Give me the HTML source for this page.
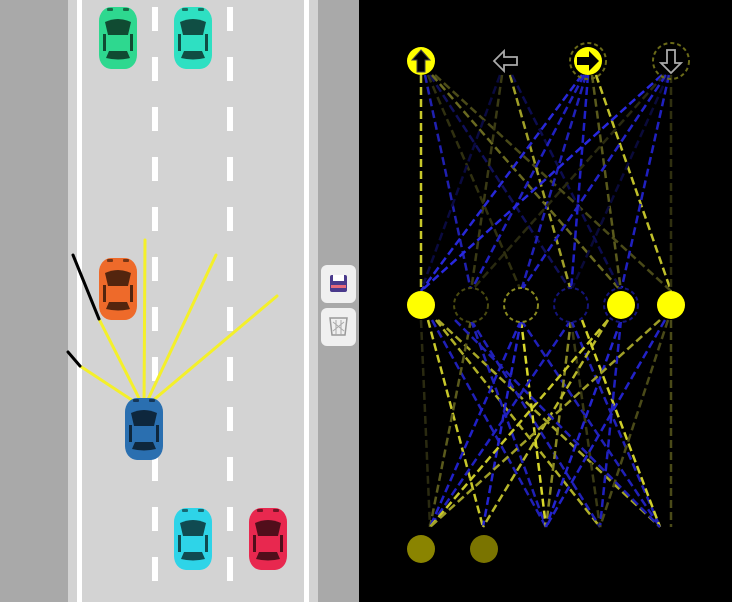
<!DOCTYPE html>
<html><head><style>
html,body{margin:0;padding:0;width:732px;height:602px;overflow:hidden;background:#000}
</style></head><body>
<svg width="732" height="602" viewBox="0 0 732 602" xmlns="http://www.w3.org/2000/svg">
<defs>
<g id="car">
<rect x="-19" y="-31" width="38" height="62" rx="12" ry="14" fill="currentColor"/>
<path d="M-13,-16 Q0,-22 13,-16 L10,-3 L-10,-3 Z" fill="#000" opacity="0.65"/>
<path d="M-9,13 L9,13 L12,20 Q0,23 -12,20 Z" fill="#000" opacity="0.65"/>
<rect x="-15" y="-4" width="3" height="17" fill="#000" opacity="0.65"/>
<rect x="12" y="-4" width="3" height="17" fill="#000" opacity="0.65"/>
<rect x="-11" y="-30" width="6" height="3" rx="1" fill="#000" opacity="0.5"/>
<rect x="5" y="-30" width="6" height="3" rx="1" fill="#000" opacity="0.5"/>
</g>
</defs>
<rect x="0" y="0" width="359" height="602" fill="#a9a9a9"/>
<rect x="68" y="0" width="250" height="602" fill="#d3d3d3"/>
<rect x="77" y="0" width="5" height="602" fill="#fff"/>
<rect x="304" y="0" width="5" height="602" fill="#fff"/>
<line x1="155" y1="7" x2="155" y2="602" stroke="#fff" stroke-width="6" stroke-dasharray="24 26"/>
<line x1="230" y1="7" x2="230" y2="602" stroke="#fff" stroke-width="6" stroke-dasharray="24 26"/>
<g style="color:#2ed88f"><use href="#car" x="118" y="38"/></g>
<g style="color:#2ee0c2"><use href="#car" x="193" y="38"/></g>
<g style="color:#ee6a2a"><use href="#car" x="118" y="289"/></g>
<g stroke-width="3" stroke-linecap="round">
<line x1="144" y1="408" x2="80" y2="366" stroke="#f4f02a"/>
<line x1="80" y1="366" x2="68" y2="352" stroke="#000"/>
<line x1="144" y1="408" x2="99" y2="319" stroke="#f4f02a"/>
<line x1="99" y1="319" x2="73" y2="255" stroke="#000"/>
<line x1="144" y1="408" x2="145" y2="240" stroke="#f4f02a"/>
<line x1="144" y1="408" x2="216" y2="255" stroke="#f4f02a"/>
<line x1="144" y1="408" x2="277" y2="296" stroke="#f4f02a"/>
</g>
<g style="color:#2a6fb0"><use href="#car" x="144" y="429"/></g>
<g style="color:#2ed4e8"><use href="#car" x="193" y="539"/></g>
<g style="color:#e8284f"><use href="#car" x="268" y="539"/></g>
<rect x="321" y="265" width="35" height="38" rx="6" fill="#f0f0f0"/>
<rect x="330" y="275" width="17" height="17" rx="2" fill="#4a3a8c"/>
<rect x="333" y="275" width="11" height="6" fill="#fff"/>
<rect x="331" y="285" width="15" height="3" fill="#e86a7a"/>
<rect x="321" y="308" width="35" height="38" rx="6" fill="#f0f0f0"/>
<path d="M330,318 L347,318 L345,335 L332,335 Z" fill="none" stroke="#999" stroke-width="1.5"/>
<path d="M333,322 L344,331 M344,322 L333,331 M336,320 L336,335 M341,320 L341,335" stroke="#aaa" stroke-width="1"/>
<rect x="359" y="0" width="373" height="602" fill="#000"/>
<g stroke-width="2.5" stroke-dasharray="8 4" fill="none">
<line x1="421" y1="75" x2="421" y2="291" stroke="#c8c82a"/>
<line x1="425" y1="75" x2="471" y2="291" stroke="#2020b0"/>
<line x1="428" y1="75" x2="521" y2="291" stroke="#303010"/>
<line x1="430" y1="75" x2="571" y2="291" stroke="#10105a"/>
<line x1="432" y1="75" x2="621" y2="291" stroke="#6a6a20"/>
<line x1="435" y1="75" x2="671" y2="291" stroke="#4a4a18"/>
<line x1="500" y1="75" x2="421" y2="291" stroke="#0a0a40"/>
<line x1="502" y1="75" x2="471" y2="291" stroke="#3a3a14"/>
<line x1="510" y1="75" x2="571" y2="291" stroke="#a0a028"/>
<line x1="512" y1="75" x2="621" y2="291" stroke="#0c0c50"/>
<line x1="582" y1="75" x2="421" y2="291" stroke="#2828d8"/>
<line x1="584" y1="75" x2="471" y2="291" stroke="#2020c0"/>
<line x1="586" y1="75" x2="521" y2="291" stroke="#2020b8"/>
<line x1="588" y1="75" x2="571" y2="291" stroke="#2020c8"/>
<line x1="592" y1="75" x2="621" y2="291" stroke="#5a5a1c"/>
<line x1="596" y1="75" x2="671" y2="291" stroke="#c0c02a"/>
<line x1="662" y1="75" x2="421" y2="291" stroke="#2828e0"/>
<line x1="664" y1="75" x2="471" y2="291" stroke="#2a2a10"/>
<line x1="666" y1="75" x2="521" y2="291" stroke="#2222c8"/>
<line x1="668" y1="75" x2="571" y2="291" stroke="#0a0a3a"/>
<line x1="669" y1="75" x2="621" y2="291" stroke="#2020c0"/>
<line x1="671" y1="75" x2="671" y2="291" stroke="#303010"/>
<line x1="428" y1="320" x2="483" y2="527" stroke="#c8c82a"/>
<line x1="432" y1="320" x2="546" y2="527" stroke="#2020b8"/>
<line x1="436" y1="320" x2="600" y2="527" stroke="#b0b028"/>
<line x1="438" y1="320" x2="660" y2="527" stroke="#a8a828"/>
<line x1="421" y1="320" x2="430" y2="527" stroke="#2a2a10"/>
<line x1="471" y1="320" x2="430" y2="527" stroke="#5a5a1c"/>
<line x1="471" y1="320" x2="546" y2="527" stroke="#2020b8"/>
<line x1="471" y1="320" x2="600" y2="527" stroke="#2020b8"/>
<line x1="521" y1="320" x2="546" y2="527" stroke="#d8d82c"/>
<line x1="521" y1="320" x2="430" y2="527" stroke="#2020c8"/>
<line x1="521" y1="320" x2="483" y2="527" stroke="#2424d0"/>
<line x1="521" y1="320" x2="660" y2="527" stroke="#2020b8"/>
<line x1="571" y1="320" x2="430" y2="527" stroke="#2020c0"/>
<line x1="571" y1="320" x2="546" y2="527" stroke="#8a8a24"/>
<line x1="571" y1="320" x2="600" y2="527" stroke="#3a3a14"/>
<line x1="571" y1="320" x2="660" y2="527" stroke="#2020b8"/>
<line x1="608" y1="320" x2="430" y2="527" stroke="#c8c82a"/>
<line x1="608" y1="320" x2="483" y2="527" stroke="#b8b82a"/>
<line x1="582" y1="320" x2="660" y2="527" stroke="#d0d02a"/>
<line x1="621" y1="320" x2="546" y2="527" stroke="#2424d0"/>
<line x1="621" y1="320" x2="600" y2="527" stroke="#2020c0"/>
<line x1="660" y1="320" x2="430" y2="527" stroke="#a0a028"/>
<line x1="665" y1="320" x2="546" y2="527" stroke="#2222c8"/>
<line x1="668" y1="320" x2="600" y2="527" stroke="#4a4a18"/>
<line x1="671" y1="320" x2="671" y2="527" stroke="#4a4a18"/>
<line x1="455" y1="320" x2="660" y2="527" stroke="#2020b8"/>
</g>
<circle cx="421" cy="305" r="14" fill="#ffff00"/>
<circle cx="471" cy="305" r="17" fill="#000" stroke="#4a4a10" stroke-width="2" stroke-dasharray="4 3"/>
<circle cx="521" cy="305" r="17" fill="#000" stroke="#8a8a20" stroke-width="2" stroke-dasharray="4 3"/>
<circle cx="571" cy="305" r="17" fill="#000" stroke="#14147a" stroke-width="2" stroke-dasharray="4 3"/>
<circle cx="621" cy="305" r="17" fill="#000" stroke="#14147a" stroke-width="2" stroke-dasharray="4 3"/>
<circle cx="621" cy="305" r="14" fill="#ffff00"/>
<circle cx="671" cy="305" r="14" fill="#ffff00"/>
<circle cx="421" cy="549" r="14" fill="#8a8400"/>
<circle cx="484" cy="549" r="14" fill="#7a7400"/>
<circle cx="421" cy="61" r="14" fill="#ffff00"/>
<path d="M421,50 L430,60 L425,60 L425,72 L417,72 L417,60 L412,60 Z" fill="#000" stroke="#444" stroke-width="1"/>
<path d="M494,61 L504,51 L504,57 L517,57 L517,65 L504,65 L504,71 Z" fill="none" stroke="#aaa" stroke-width="1.8"/>
<circle cx="588" cy="61" r="18" fill="none" stroke="#6a6a18" stroke-width="2" stroke-dasharray="4 3"/>
<circle cx="588" cy="61" r="14" fill="#ffff00"/>
<path d="M599,61 L589,51 L589,57 L577,57 L577,65 L589,65 L589,71 Z" fill="#000"/>
<circle cx="671" cy="61" r="18" fill="none" stroke="#6a6a18" stroke-width="2" stroke-dasharray="4 3"/>
<path d="M671,73 L661,63 L667,63 L667,50 L675,50 L675,63 L681,63 Z" fill="none" stroke="#aaa" stroke-width="1.8"/>
</svg>
</body></html>
